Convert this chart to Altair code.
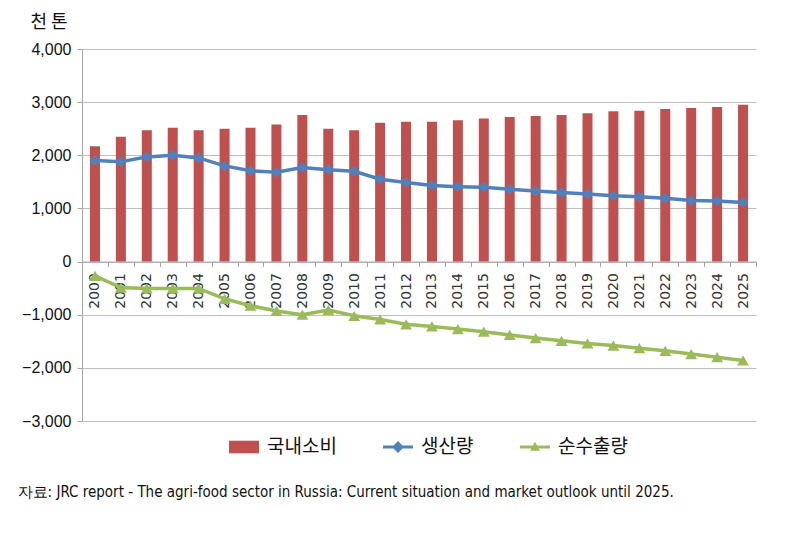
import altair as alt
import pandas as pd

years = [str(y) for y in range(2000, 2026)]
consumption = [2170, 2350, 2470, 2520, 2470, 2500, 2520, 2580, 2760, 2500, 2470, 2610, 2630,
               2630, 2660, 2690, 2720, 2740, 2760, 2790, 2830, 2840, 2870, 2890, 2910, 2950]
production = [1900, 1880, 1970, 2000, 1950, 1800, 1710, 1680, 1770, 1730, 1700, 1550, 1490,
              1430, 1410, 1400, 1360, 1330, 1300, 1270, 1240, 1220, 1190, 1150, 1140, 1110]
net_export = [-270, -490, -505, -505, -505, -700, -830, -930, -1000, -910, -1020, -1090, -1180,
              -1220, -1270, -1320, -1380, -1440, -1490, -1540, -1580, -1630, -1680, -1740, -1800, -1860]

series_names = ["국내소비", "생산량", "순수출량"]
colors = ["#C0504D", "#4F81BD", "#9BBB59"]
# legend symbols: bar rectangle, line with diamond, line with triangle
shapes = [
    "M-1,-0.42 L1,-0.42 L1,0.42 L-1,0.42 Z",
    "M-1,-0.1 L-0.3,-0.1 L0,-0.4 L0.3,-0.1 L1,-0.1 L1,0.1 L0.3,0.1 L0,0.4 L-0.3,0.1 L-1,0.1 Z",
    "M-1,-0.1 L-0.14,-0.1 L0,-0.35 L0.14,-0.1 L1,-0.1 L1,0.1 L0.25,0.1 L0.33,0.25 "
    "L-0.33,0.25 L-0.25,0.1 L-1,0.1 Z",
]

rows = []
for i, y in enumerate(years):
    rows.append({"year": y, "series": series_names[0], "value": consumption[i]})
    rows.append({"year": y, "series": series_names[1], "value": production[i]})
    rows.append({"year": y, "series": series_names[2], "value": net_export[i]})
df = pd.DataFrame(rows)

W, H = 674, 372
zero_offset = -H * 3000 / 7000

x_enc = alt.X("year:N", sort=years,
              scale=alt.Scale(paddingInner=0, paddingOuter=0),
              axis=alt.Axis(title=None, labelAngle=-90, labelFontSize=14, labelColor="#333",
                            labelFont="DejaVu Sans", labelPadding=6,
                            tickBand="extent", tickSize=5, tickColor="#A6A6A6",
                            domainColor="#A6A6A6", offset=zero_offset, grid=False,
                            labelOverlap=False))
y_enc = alt.Y("value:Q",
              scale=alt.Scale(domain=[-3000, 4000], nice=False),
              axis=alt.Axis(values=[-3000, -2000, -1000, 0, 1000, 2000, 3000, 4000],
                            format=",.0f", labelFontSize=16, labelColor="#111",
                            labelFont="Liberation Sans", labelPadding=6,
                            tickSize=5, tickColor="#A6A6A6", domainColor="#A6A6A6",
                            gridColor="#BFBFBF", gridWidth=1,
                            title="천 톤", titleAngle=0, titleAlign="left",
                            titleBaseline="middle", titleX=-52, titleY=-27,
                            titleFontSize=18, titleFontWeight="normal",
                            titleFont="Noto Sans CJK KR", titleColor="#111"))

legend = alt.Legend(title=None, orient="none", direction="horizontal",
                    legendX=147, legendY=383, labelFontSize=19,
                    labelFont="Noto Sans CJK KR", labelColor="#111",
                    symbolSize=900, symbolStrokeWidth=0, symbolOpacity=1,
                    columnPadding=46, labelOffset=8)

color_scale = alt.Scale(domain=series_names, range=colors)
color_enc = alt.Color("series:N", scale=color_scale, legend=legend)

base = alt.Chart(df)

legend_layer = base.transform_filter(alt.datum.series == "__none__").mark_point(
    filled=True, opacity=1).encode(
    x=x_enc, y=y_enc, color=color_enc,
    shape=alt.Shape("series:N", scale=alt.Scale(domain=series_names, range=shapes),
                    legend=legend))

bars = base.transform_filter(alt.datum.series == "국내소비").mark_bar(size=10).encode(
    x=x_enc, y=y_enc, color=color_enc)

lines = base.transform_filter(alt.datum.series != "국내소비").mark_line(strokeWidth=3.5).encode(
    x=x_enc, y=y_enc, color=color_enc, detail="series:N")

prod_pts = base.transform_filter(alt.datum.series == "생산량").mark_point(
    filled=True, shape="diamond", size=120, opacity=1).encode(
    x=x_enc, y=y_enc, color=color_enc)

net_pts = base.transform_filter(alt.datum.series == "순수출량").mark_point(
    filled=True, shape="triangle-up", size=140, opacity=1).encode(
    x=x_enc, y=y_enc, color=color_enc)

chart = alt.layer(legend_layer, bars, lines, prod_pts, net_pts).properties(
    width=W, height=H,
    autosize=alt.AutoSizeParams(type="none"),
    padding={"left": 74, "top": 41, "right": 40, "bottom": 100},
    title=alt.TitleParams(
        "자료: JRC report - The agri-food sector in Russia: Current situation and market outlook until 2025.",
        orient="bottom", anchor="start", frame="bounds", fontSize=15, fontWeight="normal",
        font="DejaVu Sans Condensed, Liberation Sans Narrow, Roboto Condensed, sans-serif",
        color="#111", offset=28, dx=-4)
).configure_view(stroke=None).configure_axis(domainWidth=1)

chart.save("out.html", embed_options={"renderer": "svg", "actions": False})
